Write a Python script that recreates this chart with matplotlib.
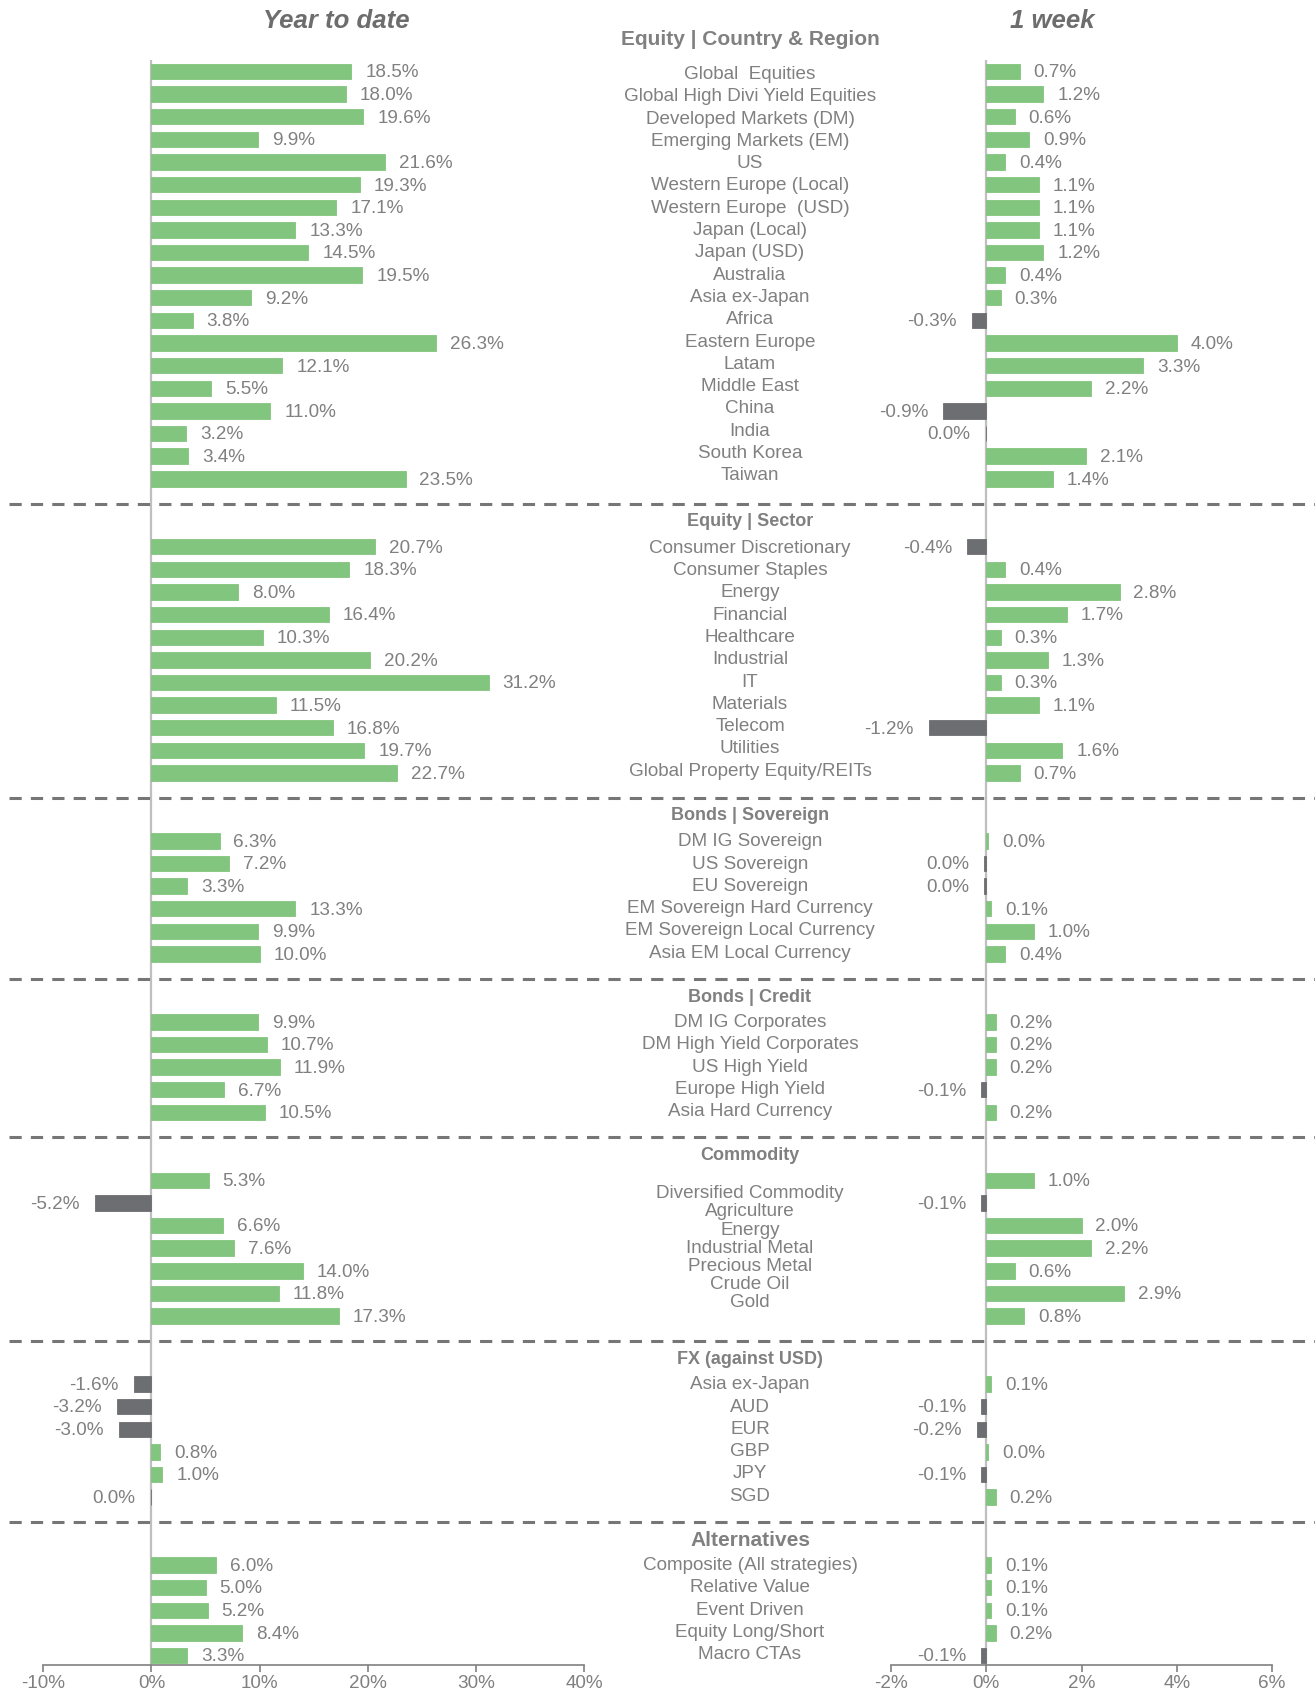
import matplotlib
matplotlib.use("Agg")
import matplotlib.pyplot as plt
from matplotlib.transforms import blended_transform_factory
import numpy as np

# ---------------- data ----------------
sec_titles = ["Equity | Country & Region", "Equity | Sector", "Bonds | Sovereign",
              "Bonds | Credit", "Commodity", "FX (against USD)", "Alternatives"]

eq_country_labels = ["Global  Equities", "Global High Divi Yield Equities", "Developed Markets (DM)",
                     "Emerging Markets (EM)", "US", "Western Europe (Local)", "Western Europe  (USD)",
                     "Japan (Local)", "Japan (USD)", "Australia", "Asia ex-Japan", "Africa",
                     "Eastern Europe", "Latam", "Middle East", "China", "India", "South Korea", "Taiwan"]
eq_country_ytd = [18.5, 18.0, 19.6, 9.9, 21.6, 19.3, 17.1, 13.3, 14.5, 19.5, 9.2, 3.8, 26.3, 12.1,
                  5.5, 11.0, 3.2, 3.4, 23.5]
eq_country_wk = [0.7, 1.2, 0.6, 0.9, 0.4, 1.1, 1.1, 1.1, 1.2, 0.4, 0.3, -0.3, 4.0, 3.3, 2.2, -0.9,
                 -0.01, 2.1, 1.4]

eq_sector_labels = ["Consumer Discretionary", "Consumer Staples", "Energy", "Financial", "Healthcare",
                    "Industrial", "IT", "Materials", "Telecom", "Utilities", "Global Property Equity/REITs"]
eq_sector_ytd = [20.7, 18.3, 8.0, 16.4, 10.3, 20.2, 31.2, 11.5, 16.8, 19.7, 22.7]
eq_sector_wk = [-0.4, 0.4, 2.8, 1.7, 0.3, 1.3, 0.3, 1.1, -1.2, 1.6, 0.7]

sov_labels = ["DM IG Sovereign", "US Sovereign", "EU Sovereign", "EM Sovereign Hard Currency",
              "EM Sovereign Local Currency", "Asia EM Local Currency"]
sov_ytd = [6.3, 7.2, 3.3, 13.3, 9.9, 10.0]
sov_wk = [0.04, -0.04, -0.04, 0.1, 1.0, 0.4]

credit_labels = ["DM IG Corporates", "DM High Yield Corporates", "US High Yield",
                 "Europe High Yield", "Asia Hard Currency"]
credit_ytd = [9.9, 10.7, 11.9, 6.7, 10.5]
credit_wk = [0.2, 0.2, 0.2, -0.1, 0.2]

commod_labels = ["Diversified Commodity", "Agriculture", "Energy", "Industrial Metal",
                 "Precious Metal", "Crude Oil", "Gold"]
commod_ytd = [5.3, -5.2, 6.6, 7.6, 14.0, 11.8, 17.3]
commod_wk = [1.0, -0.1, 2.0, 2.2, 0.6, 2.9, 0.8]

fx_labels = ["Asia ex-Japan", "AUD", "EUR", "GBP", "JPY", "SGD"]
fx_ytd = [-1.6, -3.2, -3.0, 0.8, 1.0, -0.04]
fx_wk = [0.1, -0.1, -0.2, 0.04, -0.1, 0.2]

alt_labels = ["Composite (All strategies)", "Relative Value", "Event Driven",
              "Equity Long/Short", "Macro CTAs"]
alt_ytd = [6.0, 5.0, 5.2, 8.4, 3.3]
alt_wk = [0.1, 0.1, 0.1, 0.2, -0.1]

ytd_ticks = [-10, 0, 10, 20, 30, 40]
wk_ticks = [-2, 0, 2, 4, 6]

sections = [
    (sec_titles[0], eq_country_labels, eq_country_ytd, eq_country_wk),
    (sec_titles[1], eq_sector_labels, eq_sector_ytd, eq_sector_wk),
    (sec_titles[2], sov_labels, sov_ytd, sov_wk),
    (sec_titles[3], credit_labels, credit_ytd, credit_wk),
    (sec_titles[4], commod_labels, commod_ytd, commod_wk),
    (sec_titles[5], fx_labels, fx_ytd, fx_wk),
    (sec_titles[6], alt_labels, alt_ytd, alt_wk),
]

# ---------------- style ----------------
GREEN = "#82C57F"
GREY_BAR = "#6D6E71"
TXT = "#808080"
AXC = "#BFBFBF"
FONT = ["Liberation Sans Narrow", "Liberation Sans", "DejaVu Sans"]
plt.rcParams["font.family"] = FONT
LBL_FS = 13.6

W, H = 1315, 1696
fig = plt.figure(figsize=(W / 100, H / 100), dpi=100)

y_top_px, y_bot_px = 59.5, 1665.0
axL = fig.add_axes([43.3 / W, 1 - y_bot_px / H, (584 - 43.3) / W, (y_bot_px - y_top_px) / H])
axR = fig.add_axes([891.0 / W, 1 - y_bot_px / H, (1272 - 891.0) / W, (y_bot_px - y_top_px) / H])

# row layout
rows, vals_l, vals_r, labels, label_secs = [], [], [], [], []
headers, seps = [], []
r = 0
for si, (title, labs, yv, wv) in enumerate(sections):
    if si > 0:
        seps.append(r + 0.1)
        headers.append((title, r + 0.9))
        r += 2
    else:
        headers.append((title, -1.4))
    for lab, a, b in zip(labs, yv, wv):
        rows.append(r)
        vals_l.append(a)
        vals_r.append(b)
        labels.append(lab)
        label_secs.append(si)
        r += 1
n_last = rows[-1]

for ax, vals, lim, ticks in [(axL, vals_l, (-10, 40), ytd_ticks), (axR, vals_r, (-2, 6), wk_ticks)]:
    cols = [GREEN if v >= 0 else GREY_BAR for v in vals]
    ax.barh(rows, vals, height=0.68, color=cols, edgecolor=cols, linewidth=0.6, zorder=3)
    ax.set_xlim(*lim)
    ax.set_ylim(n_last + 0.42, -0.53)
    ax.set_xticks(ticks)
    ax.set_xticklabels([f"{t}%" for t in ticks])
    ax.set_yticks([])
    for s in ["top", "right", "left"]:
        ax.spines[s].set_visible(False)
    ax.spines["bottom"].set_color(TXT)
    ax.spines["bottom"].set_linewidth(1.2)
    ax.tick_params(axis="x", colors=TXT, labelcolor=TXT, labelsize=LBL_FS, length=5, width=1.2, pad=2)
    ax.axvline(0, color=AXC, lw=1.6, zorder=2)
    ax.patch.set_alpha(0)
    for y, v in zip(rows, vals):
        txt = f"{abs(v):.1f}%" if round(v, 1) == 0 else f"{v:.1f}%"
        if v >= 0:
            ax.annotate(txt, (v, y), xytext=(10, -1), textcoords="offset points",
                        ha="left", va="center", color=TXT, fontsize=LBL_FS)
        else:
            ax.annotate(txt, (v, y), xytext=(-11, -1), textcoords="offset points",
                        ha="right", va="center", color=TXT, fontsize=LBL_FS)

# middle labels
tr = blended_transform_factory(fig.transFigure, axL.transData)
xc = 750 / W
sec_rows = {}
for y, si in zip(rows, label_secs):
    sec_rows.setdefault(si, []).append(y)
for lab, y, si in zip(labels, rows, label_secs):
    ys = sec_rows[si]
    mid = (ys[0] + ys[-1]) / 2
    k = 0.8 if si == 4 else 0.985   # commodity labels are compressed in the original
    yy = mid + (y - mid) * k
    fig.text(xc, yy, lab, transform=tr, ha="center", va="center", color=TXT, fontsize=LBL_FS)

for i, (title, y) in enumerate(headers):
    if i == 0:
        fs = 15
    elif title == "Alternatives":
        fs = 15
    else:
        fs = 13
    fig.text(xc, y, title, transform=tr, ha="center", va="center", color=TXT,
             fontsize=fs, fontweight="bold")

for y in seps:
    fig.add_artist(plt.Line2D([8.6 / W, 1.0], [y, y], transform=tr, color="#767676",
                              lw=2.2, ls=(0, (4, 3))))

fig.text(336 / W, 1 - 21 / H, "Year to date", ha="center", va="center", color="#6D6D6D",
         fontsize=18.5, fontweight="bold", fontstyle="italic")
fig.text(1052 / W, 1 - 21 / H, "1 week", ha="center", va="center", color="#6D6D6D",
         fontsize=18.5, fontweight="bold", fontstyle="italic")

fig.savefig("out.png", dpi=100)
